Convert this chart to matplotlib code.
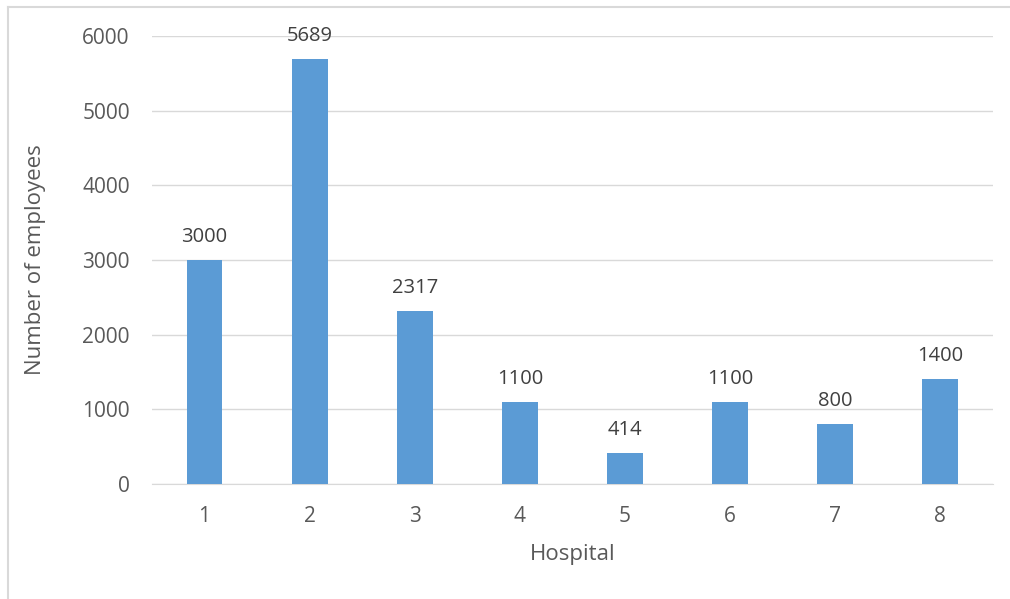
import matplotlib.pyplot as plt
from matplotlib.lines import Line2D

# employees per hospital
hospitals = [1, 2, 3, 4, 5, 6, 7, 8]
employees = [3000, 5689, 2317, 1100, 414, 1100, 800, 1400]
yticks = [0, 1000, 2000, 3000, 4000, 5000, 6000]

plt.rcParams['font.family'] = ['Open Sans', 'DejaVu Sans']
txt = '#595959'

fig = plt.figure(figsize=(10.10, 5.99), dpi=100)
ax = fig.add_axes([0.1505, 0.192, 0.8325, 0.748])

bars = ax.bar(hospitals, employees, width=0.34, color='#5B9BD5', zorder=3)
for b, v in zip(bars, employees):
    ax.annotate(str(v), (b.get_x() + b.get_width() / 2, v),
                xytext=(0, 9.5), textcoords='offset points',
                ha='center', va='bottom', fontsize=14.5, color='#404040')

ax.set_xlim(0.5, 8.5)
ax.set_ylim(0, 6000)
ax.set_xticks(hospitals)
ax.set_yticks(yticks)
ax.tick_params(length=0, labelsize=15, colors=txt)
ax.tick_params(axis='y', pad=16)
ax.tick_params(axis='x', pad=16)
ax.grid(axis='y', color='#D9D9D9', linewidth=1, zorder=0)
for s in ['top', 'right', 'left']:
    ax.spines[s].set_visible(False)
ax.spines['bottom'].set_color('#D9D9D9')

ax.set_xlabel('Hospital', fontsize=16, color=txt, labelpad=12)
ax.set_ylabel('Number of employees', fontsize=16, color=txt, labelpad=26)

# outer chart frame (left and top edges only)
fx = 7.5 / 1010
fy = 1 - 6.5 / 599
fig.add_artist(Line2D([fx, fx], [0, fy], transform=fig.transFigure,
                      color='#D9D9D9', linewidth=1.5))
fig.add_artist(Line2D([fx, 1], [fy, fy], transform=fig.transFigure,
                      color='#D9D9D9', linewidth=1.5))

fig.savefig('out.png', dpi=100)
